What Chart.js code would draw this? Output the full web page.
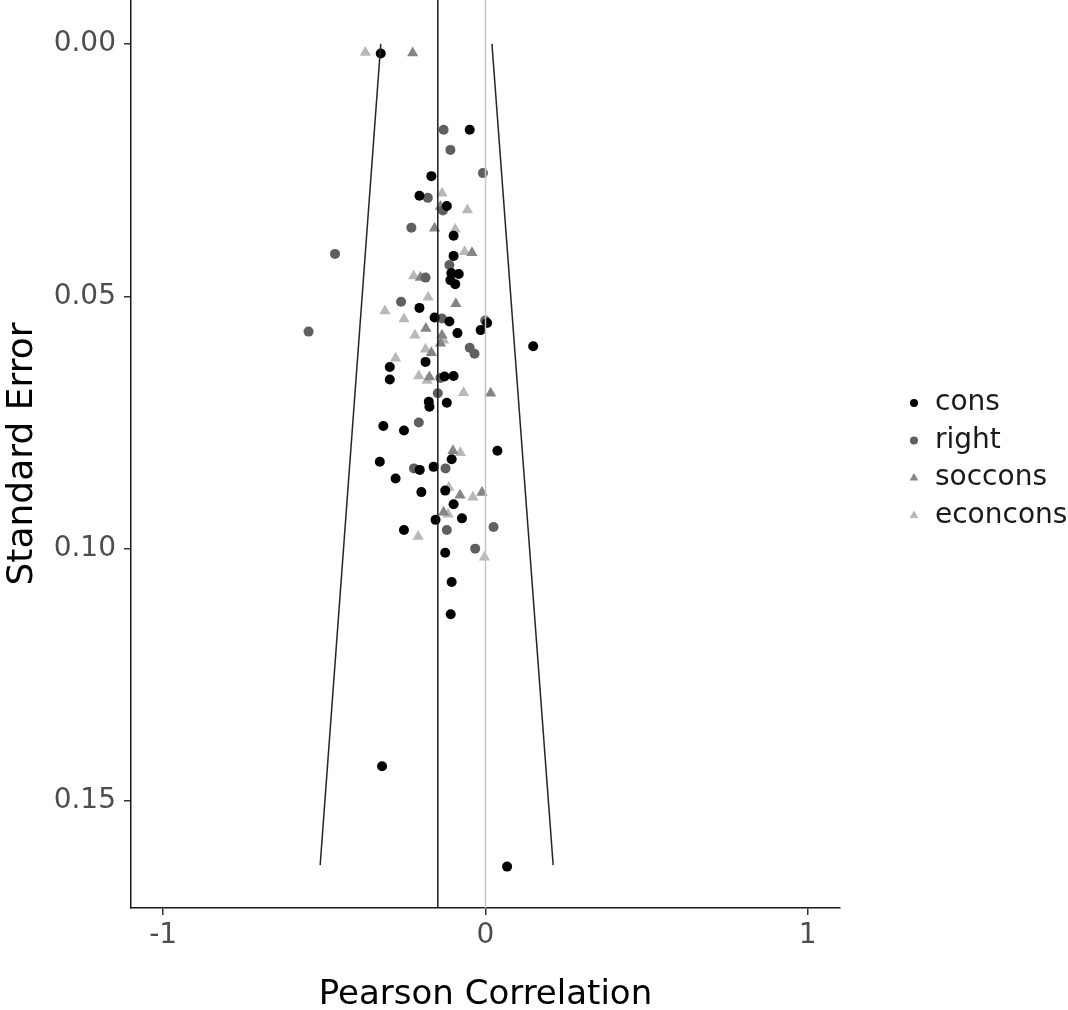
<!DOCTYPE html>
<html><head><meta charset="utf-8">
<script src="https://cdn.jsdelivr.net/npm/chart.js@4"></script>
<style>html,body{margin:0;padding:0;background:#fff;}#wrap{width:1068px;height:1010px;}</style>
</head><body><div id="wrap"><canvas id="c" width="1068" height="1010"></canvas></div>
<script>
// ---------- data ----------
const seriesNames = ['cons', 'right', 'soccons', 'econcons'];

const consX = [-0.325,-0.049,-0.168,-0.205,-0.120,-0.099,-0.099,-0.106,-0.083,-0.109,-0.094,-0.205,-0.158,-0.112,-0.087,-0.015,0.005,0.148,-0.186,-0.297,-0.297,-0.127,-0.099,-0.176,-0.174,-0.120,-0.317,-0.253,0.037,-0.105,-0.328,-0.204,-0.161,-0.279,-0.125,-0.199,-0.099,-0.155,-0.073,-0.253,-0.125,-0.105,-0.108,-0.321,0.067];
const consSE = [0.0019,0.0170,0.0262,0.0301,0.0321,0.0380,0.0420,0.0454,0.0456,0.0468,0.0476,0.0523,0.0542,0.0550,0.0573,0.0567,0.0553,0.0599,0.0630,0.0640,0.0665,0.0659,0.0658,0.0709,0.0719,0.0711,0.0757,0.0766,0.0806,0.0823,0.0828,0.0844,0.0838,0.0861,0.0885,0.0888,0.0912,0.0943,0.0940,0.0963,0.1008,0.1066,0.1130,0.1431,0.1630];

const rightX = [-0.130,-0.109,-0.008,-0.179,-0.132,-0.230,-0.467,-0.112,-0.186,-0.262,-0.135,-0.001,-0.549,-0.049,-0.034,-0.140,-0.148,-0.207,-0.222,-0.124,0.025,-0.120,-0.032];
const rightSE = [0.0170,0.0210,0.0256,0.0305,0.0330,0.0364,0.0416,0.0438,0.0463,0.0511,0.0544,0.0548,0.0570,0.0602,0.0614,0.0662,0.0692,0.0750,0.0841,0.0841,0.0957,0.0963,0.1000];

const socconsX = [-0.226,-0.140,-0.158,-0.042,-0.202,-0.092,-0.185,-0.135,-0.140,-0.168,-0.174,0.016,-0.101,-0.079,-0.011,-0.130];
const socconsSE = [0.0018,0.0322,0.0365,0.0414,0.0463,0.0515,0.0564,0.0577,0.0593,0.0612,0.0660,0.0692,0.0806,0.0894,0.0889,0.0928];

const econconsX = [-0.373,-0.135,-0.056,-0.094,-0.065,-0.223,-0.178,-0.312,-0.253,-0.219,-0.130,-0.186,-0.279,-0.207,-0.181,-0.068,-0.078,-0.114,-0.039,-0.116,-0.209,-0.003];
const econconsSE = [0.0017,0.0296,0.0329,0.0367,0.0412,0.0460,0.0502,0.0529,0.0545,0.0577,0.0587,0.0605,0.0623,0.0658,0.0667,0.0691,0.0810,0.0879,0.0898,0.0932,0.0976,0.1017];

const meanEffect = -0.148;
const funnelSE = [0, 0.1627];
const funnelLeftX = [-0.325, -0.513];
const funnelRightX = [0.020, 0.210];

const xTicks = [-1, 0, 1];
const yTicks = [0, 0.05, 0.10, 0.15];
const xLimits = [-1.1, 1.1];
const yLimits = [-0.0087, 0.1712];

// ---------- styles ----------
const FONT = "'DejaVu Sans', sans-serif";
const seriesStyle = {
  cons:     {color: '#000000', shape: 'circle',   r: 5,   lr: 4},
  right:    {color: '#5f5f5f', shape: 'circle',   r: 5,   lr: 4},
  soccons:  {color: '#858585', shape: 'triangle', r: 6.5, lr: 5},
  econcons: {color: '#b8b8b8', shape: 'triangle', r: 6.5, lr: 5}
};
const seriesData = {cons: [consX, consSE], right: [rightX, rightSE], soccons: [socconsX, socconsSE], econcons: [econconsX, econconsSE]};

const toPts = (xs, ys) => xs.map((x, i) => ({x: x, y: ys[i]}));

const pointSets = seriesNames.map((n, i) => ({
  label: n,
  data: toPts(seriesData[n][0], seriesData[n][1]),
  pointStyle: seriesStyle[n].shape,
  pointRadius: seriesStyle[n].r,
  pointBackgroundColor: seriesStyle[n].color,
  pointBorderWidth: 0,
  showLine: false,
  order: 10 + i
}));

const lineSet = (label, xs, ys, color, order) => ({
  label: label, data: toPts(xs, ys), showLine: true, borderColor: color,
  borderWidth: 1.5, pointRadius: 0, fill: false, order: order
});

const datasets = pointSets.concat([
  lineSet('zero', [0, 0], yLimits, '#c4c4c4', 3),
  lineSet('mean', [meanEffect, meanEffect], yLimits, '#1a1a1a', 2),
  lineSet('funnelL', funnelLeftX, funnelSE, '#262626', 1),
  lineSet('funnelR', funnelRightX, funnelSE, '#262626', 1)
]);

const legendLayout = {x: 914, textX: 935, y0: 403, step: 37.5, size: 28};
const legendPlugin = {
  id: 'customLegend',
  afterDraw(chart) {
    const ctx = chart.ctx;
    ctx.save();
    ctx.font = legendLayout.size + 'px ' + FONT;
    ctx.textBaseline = 'middle';
    ctx.textAlign = 'left';
    seriesNames.forEach((n, i) => {
      const y = legendLayout.y0 + i * legendLayout.step;
      const st = seriesStyle[n];
      ctx.fillStyle = st.color;
      Chart.helpers.drawPoint(ctx, {pointStyle: st.shape, radius: st.lr, rotation: 0, borderWidth: 0}, legendLayout.x, y);
      ctx.fillStyle = '#1a1a1a';
      ctx.fillText(n, legendLayout.textX, y);
    });
    ctx.restore();
  }
};

new Chart(document.getElementById('c'), {
  type: 'scatter',
  data: {datasets: datasets},
  options: {
    responsive: false, animation: false, devicePixelRatio: 1,
    layout: {autoPadding: false, padding: {left: 0, right: 228, top: 0, bottom: 0}},
    plugins: {legend: {display: false}, tooltip: {enabled: false}},
    scales: {
      x: {
        type: 'linear', min: xLimits[0], max: xLimits[1],
        afterBuildTicks: s => { s.ticks = xTicks.map(v => ({value: v})); },
        afterFit: s => { s.height = 102; s.paddingLeft = 0; s.paddingRight = 0; },
        ticks: {font: {family: FONT, size: 28}, color: '#4d4d4d', padding: 4, callback: v => String(v), maxRotation: 0},
        grid: {display: true, drawOnChartArea: false, drawTicks: true, tickLength: 7, color: '#333333', lineWidth: 1.5},
        border: {display: true, color: '#1a1a1a', width: 1.5},
        title: {display: true, text: 'Pearson Correlation', color: '#000', font: {family: FONT, size: 34, lineHeight: 1}, padding: {top: 0, bottom: -2}}
      },
      y: {
        type: 'linear', reverse: true, min: yLimits[0], max: yLimits[1],
        afterBuildTicks: s => { s.ticks = yTicks.map(v => ({value: v})); },
        afterFit: s => { s.width = 131; s.paddingTop = 0; s.paddingBottom = 0; },
        ticks: {font: {family: FONT, size: 28}, color: '#4d4d4d', padding: 8, callback: v => Number(v).toFixed(2)},
        grid: {display: true, drawOnChartArea: false, drawTicks: true, tickLength: 7, color: '#333333', lineWidth: 1.5},
        border: {display: true, color: '#1a1a1a', width: 1.5},
        title: {display: true, text: 'Standard Error', color: '#000', font: {family: FONT, size: 36, lineHeight: 1}, padding: {top: 5, bottom: 0}}
      }
    }
  },
  plugins: [legendPlugin]
});
</script>
</body></html>
